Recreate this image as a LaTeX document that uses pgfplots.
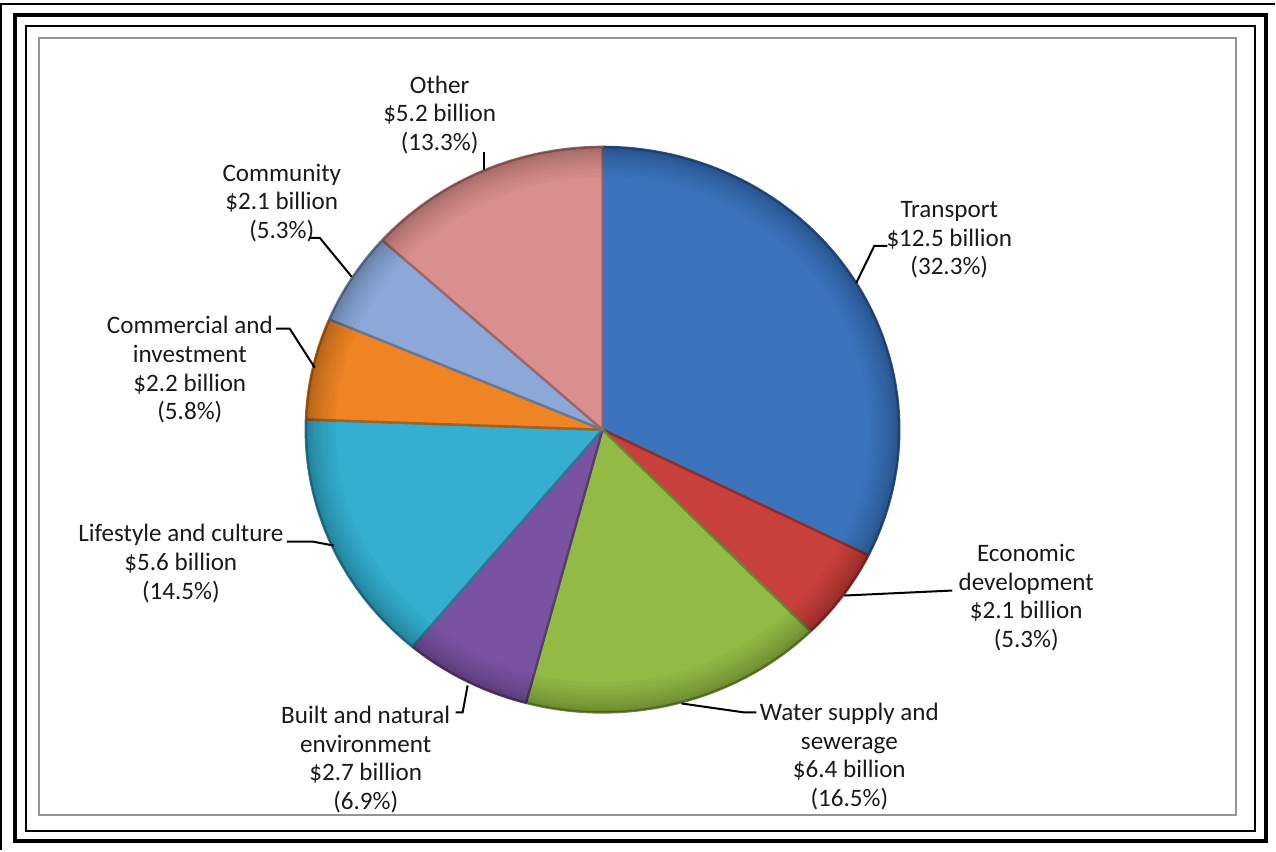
\documentclass[border=0pt]{standalone}
\usepackage{pgfplots}
\pgfplotsset{compat=1.18}
\usepackage{pgfplotstable}
\usepackage{fontspec}
\setmainfont{Carlito}
\definecolor{cTr}{HTML}{3C73BD}
\definecolor{cEc}{HTML}{C9403C}
\definecolor{cWa}{HTML}{92BA45}
\definecolor{cBu}{HTML}{7952A2}
\definecolor{cLi}{HTML}{35AECF}
\definecolor{cCo}{HTML}{EE8423}
\definecolor{cCm}{HTML}{8CA8D9}
\definecolor{cOt}{HTML}{D98F8D}
\definecolor{txt}{HTML}{1A1A1A}

% share of each category (percent), clockwise from 12 o'clock
\pgfplotstableread{
pct
32.3
5.3
16.5
6.9
14.5
5.8
5.3
13.3
}\piedata

\xdef\cumang{0}%
\pgfplotstableforeachcolumnelement{pct}\of\piedata\as\v{%
  \pgfmathsetmacro\tmp{\cumang+\v*360/99.9}%
  \expandafter\xdef\csname start\pgfplotstablerow\endcsname{\cumang}%
  \expandafter\xdef\csname end\pgfplotstablerow\endcsname{\tmp}%
  \xdef\cumang{\tmp}}%
\newcommand\slice[2]{%
  \edef\sA{\csname start#1\endcsname}\edef\sB{\csname end#1\endcsname}%
  \addplot[fill=#2, draw=#2!72!black, line width=1.2bp, line join=round, domain=\sA:\sB, samples=60]
    ({603+297*sin(x)},{430-283*cos(x)}) -- (axis cs:603,430) -- cycle;}
\tikzset{lbl/.style={font=\fontsize{12.6}{14.4}\selectfont, text=txt, align=center, inner sep=0pt},
  rim/.style={black, opacity=0.022, line width=#1}}

\begin{document}
\begin{tikzpicture}
\begin{axis}[scale only axis, width=638bp, height=425.5bp,
  xmin=0, xmax=1276, ymin=0, ymax=851, y dir=reverse,
  hide axis, clip=false]
\path (axis cs:0,0) rectangle (axis cs:1276,851);
% frames
\draw[line width=1bp, black] (axis cs:1.5,851) -- (axis cs:1.5,4) -- (axis cs:1276,4);
\draw[line width=2bp, black] (axis cs:15,15) rectangle (axis cs:1267,842);
\draw[line width=1bp, black] (axis cs:26,26) rectangle (axis cs:1256,832);
\draw[line width=1bp, black!42] (axis cs:39.5,38) rectangle (axis cs:1237,816);
% slices
\slice{0}{cTr}
\slice{1}{cEc}
\slice{2}{cWa}
\slice{3}{cBu}
\slice{4}{cLi}
\slice{5}{cCo}
\slice{6}{cCm}
\slice{7}{cOt}
% darker rim (bevel look)
\begin{scope}
\clip (axis cs:603,430) ellipse [x radius=148.5bp, y radius=141.5bp];
\pgfplotsinvokeforeach{30,26,22,18,15,12,9,7,5,3,2}{
  \draw[rim=#1bp] (axis cs:603,430) ellipse [x radius=148.5bp, y radius=141.5bp];}
\end{scope}
% labels
\node[lbl] at (axis cs:440,115) {Other\\\$5.2 billion\\(13.3\%)};
\node[lbl] at (axis cs:950,240) {Transport\\\$12.5 billion\\(32.3\%)};
\node[lbl] at (axis cs:282,203) {Community\\\$2.1 billion\\(5.3\%)};
\node[lbl] at (axis cs:190,370) {Commercial and\\investment\\\$2.2 billion\\(5.8\%)};
\node[lbl] at (axis cs:181,564) {Lifestyle and culture\\\$5.6 billion\\(14.5\%)};
\node[lbl] at (axis cs:366,760) {Built and natural\\environment\\\$2.7 billion\\(6.9\%)};
\node[lbl] at (axis cs:850,757) {Water supply and\\sewerage\\\$6.4 billion\\(16.5\%)};
\node[lbl] at (axis cs:1027,598) {Economic\\development\\\$2.1 billion\\(5.3\%)};
% leader lines
\draw[line width=1bp, black] (axis cs:484,152) -- (axis cs:484,170);
\draw[line width=1bp, black] (axis cs:888,246) -- (axis cs:875,246) -- (axis cs:857,283);
\draw[line width=1bp, black] (axis cs:309,238) -- (axis cs:320,238) -- (axis cs:352,277);
\draw[line width=1bp, black] (axis cs:276,329) -- (axis cs:290,329) -- (axis cs:315,368);
\draw[line width=1bp, black] (axis cs:287,542) -- (axis cs:313,542) -- (axis cs:334,546);
\draw[line width=1bp, black] (axis cs:456,713) -- (axis cs:463,713) -- (axis cs:468,686);
\draw[line width=1bp, black] (axis cs:682,704) -- (axis cs:745,713) -- (axis cs:757,713);
\draw[line width=1bp, black] (axis cs:845,596) -- (axis cs:953,591);
\end{axis}
\end{tikzpicture}
\end{document}
